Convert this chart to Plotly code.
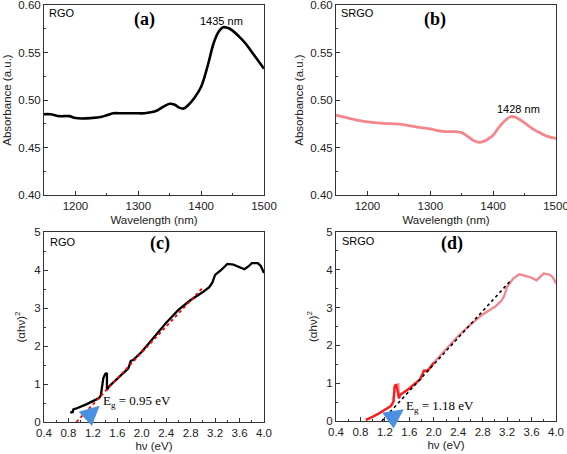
import plotly.graph_objects as go

# Panel (a) RGO absorbance
wl_a = [1150, 1160, 1175, 1190, 1200, 1210, 1225, 1240, 1250, 1260, 1275, 1290, 1300, 1310, 1320, 1330, 1340, 1350, 1358, 1365, 1372, 1380, 1390, 1400, 1410, 1420, 1428, 1435, 1442, 1450, 1460, 1470, 1480, 1490, 1500]
ab_a = [0.485, 0.485, 0.483, 0.483, 0.481, 0.4805, 0.481, 0.482, 0.484, 0.486, 0.486, 0.486, 0.486, 0.486, 0.487, 0.489, 0.493, 0.496, 0.495, 0.492, 0.491, 0.495, 0.503, 0.514, 0.535, 0.560, 0.572, 0.5765, 0.576, 0.573, 0.567, 0.560, 0.551, 0.542, 0.533]
# Panel (b) SRGO absorbance
wl_b = [1150, 1170, 1190, 1200, 1225, 1250, 1275, 1300, 1320, 1340, 1350, 1360, 1370, 1378, 1385, 1392, 1400, 1410, 1420, 1428, 1435, 1450, 1460, 1470, 1485, 1500]
ab_b = [0.484, 0.481, 0.478, 0.477, 0.4755, 0.4747, 0.472, 0.4695, 0.467, 0.4667, 0.4656, 0.4615, 0.457, 0.4554, 0.4565, 0.459, 0.463, 0.472, 0.479, 0.4825, 0.482, 0.476, 0.471, 0.467, 0.462, 0.4596]
# Panel (c) RGO Tauc
hv_c = [0.83, 0.85, 0.87, 0.88, 0.92, 1.0, 1.1, 1.2, 1.3, 1.33, 1.35, 1.37, 1.40, 1.43, 1.43, 1.43, 1.46, 1.6, 1.7, 1.78, 1.82, 1.86, 2.0, 2.2, 2.4, 2.6, 2.8, 3.0, 3.1, 3.15, 3.2, 3.3, 3.4, 3.5, 3.6, 3.68, 3.75, 3.8, 3.9, 3.95, 4.0]
ab2_c = [0.27, 0.25, 0.26, 0.33, 0.35, 0.40, 0.47, 0.55, 0.63, 0.70, 0.90, 1.15, 1.26, 1.29, 1.05, 0.84, 0.93, 1.13, 1.28, 1.41, 1.61, 1.63, 1.85, 2.23, 2.61, 2.95, 3.21, 3.42, 3.54, 3.65, 3.87, 4.0, 4.16, 4.14, 4.07, 4.02, 4.10, 4.18, 4.18, 4.10, 3.92]
fit_c_x = [0.93, 3.0]
fit_c_y = [0.0, 3.54]
# Panel (d) SRGO Tauc
hv_d = [0.89, 0.95, 1.0, 1.1, 1.2, 1.3, 1.34, 1.36, 1.38, 1.40, 1.42, 1.43, 1.43, 1.45, 1.6, 1.78, 1.84, 1.9, 2.0, 2.2, 2.4, 2.6, 2.8, 3.0, 3.1, 3.15, 3.2, 3.3, 3.4, 3.5, 3.6, 3.68, 3.75, 3.8, 3.9, 3.95, 4.0]
ab2_d = [0.03, 0.07, 0.11, 0.20, 0.29, 0.40, 0.51, 0.91, 0.97, 0.86, 1.0, 0.80, 0.60, 0.69, 0.86, 1.11, 1.33, 1.33, 1.54, 1.90, 2.25, 2.55, 2.82, 3.02, 3.17, 3.30, 3.55, 3.77, 3.88, 3.84, 3.79, 3.72, 3.82, 3.90, 3.87, 3.80, 3.64]
red_d_x = [0.89, 0.95, 1.0, 1.1, 1.2, 1.3, 1.34, 1.36, 1.38, 1.40, 1.43, 1.45, 1.6, 1.78, 1.84, 1.9, 2.0]
red_d_y = [0.03, 0.07, 0.11, 0.20, 0.29, 0.40, 0.51, 0.91, 0.97, 0.86, 0.60, 0.69, 0.86, 1.11, 1.33, 1.33, 1.54]
fit_d_x = [1.15, 3.25]
fit_d_y = [0.0, 3.70]

# Tick labels
wl_ticks = [1200, 1300, 1400, 1500]
abs_ticks = [0.40, 0.45, 0.50, 0.55, 0.60]
abs_ticklabels = ["0.40", "0.45", "0.50", "0.55", "0.60"]
hv_ticks = [0.4, 0.8, 1.2, 1.6, 2.0, 2.4, 2.8, 3.2, 3.6, 4.0]
hv_ticklabels = ["0.4", "0.8", "1.2", "1.6", "2.0", "2.4", "2.8", "3.2", "3.6", "4.0"]
tauc_ticks = [0, 1, 2, 3, 4, 5]

fig = go.Figure()
fig.add_trace(go.Scatter(x=wl_a, y=ab_a, mode="lines", line=dict(color="black", width=2.6, shape="spline"), xaxis="x", yaxis="y"))
fig.add_trace(go.Scatter(x=wl_b, y=ab_b, mode="lines", line=dict(color="#f4868e", width=2.8, shape="spline"), xaxis="x2", yaxis="y2"))
fig.add_trace(go.Scatter(x=hv_c, y=ab2_c, mode="lines", line=dict(color="black", width=2.3), xaxis="x3", yaxis="y3"))
fig.add_trace(go.Scatter(x=fit_c_x, y=fit_c_y, mode="lines", line=dict(color="red", width=1.8, dash="dot"), xaxis="x3", yaxis="y3"))
fig.add_trace(go.Scatter(x=hv_d, y=ab2_d, mode="lines", line=dict(color="#f4868e", width=2.3), xaxis="x4", yaxis="y4"))
fig.add_trace(go.Scatter(x=red_d_x, y=red_d_y, mode="lines", line=dict(color="#ff1a1a", width=2.3), xaxis="x4", yaxis="y4"))
fig.add_trace(go.Scatter(x=fit_d_x, y=fit_d_y, mode="lines", line=dict(color="black", width=1.6, dash="dot"), xaxis="x4", yaxis="y4"))

W, H = 567, 454
def dx(a, b): return [a / W, b / W]
def dy(top, bot): return [1 - bot / H, 1 - top / H]

tickfont = dict(family="Liberation Sans, Arial", size=11.5, color="#222")
titlefont = dict(family="Liberation Sans, Arial", size=11.5, color="#222")
common = dict(showline=True, linecolor="#333", linewidth=1, mirror=True, ticks="inside",
              ticklen=4, tickcolor="#333", showgrid=False, zeroline=False, tickfont=tickfont,
              automargin=False, ticklabeloverflow="allow")
wl_axis = dict(range=[1150, 1500], tickmode="array", tickvals=wl_ticks,
               title=dict(text="Wavelength (nm)", font=titlefont, standoff=5),
               minor=dict(ticks="inside", ticklen=2, dtick=50, tick0=1150, tickcolor="#333"), **common)
abs_axis = dict(range=[0.40, 0.60], tickmode="array", tickvals=abs_ticks, ticktext=abs_ticklabels,
                title=dict(text="Absorbance (a.u.)", font=titlefont, standoff=4),
                minor=dict(ticks="inside", ticklen=2, dtick=0.025, tick0=0.4, tickcolor="#333"), **common)
hv_axis = dict(range=[0.4, 4.0], tickmode="array", tickvals=hv_ticks, ticktext=hv_ticklabels,
               title=dict(text="hν (eV)", font=titlefont, standoff=4),
               minor=dict(ticks="inside", ticklen=2, dtick=0.2, tick0=0.4, tickcolor="#333"), **common)
tauc_axis = dict(range=[0, 5], tickmode="array", tickvals=tauc_ticks,
                 title=dict(text="(αhν)<sup>2</sup>", font=titlefont, standoff=6),
                 minor=dict(ticks="inside", ticklen=2, dtick=0.5, tick0=0, tickcolor="#333"), **common)

fig.update_layout(
    width=W, height=H, margin=dict(l=0, r=0, t=0, b=0),
    paper_bgcolor="white", plot_bgcolor="white", showlegend=False,
    xaxis=dict(domain=dx(44, 264), anchor="y", **wl_axis),
    yaxis=dict(domain=dy(5, 195), anchor="x", **abs_axis),
    xaxis2=dict(domain=dx(336, 556), anchor="y2", **wl_axis),
    yaxis2=dict(domain=dy(5, 195), anchor="x2", **abs_axis),
    xaxis3=dict(domain=dx(44, 264), anchor="y3", **hv_axis),
    yaxis3=dict(domain=dy(232, 422), anchor="x3", **tauc_axis),
    xaxis4=dict(domain=dx(336, 556), anchor="y4", **hv_axis),
    yaxis4=dict(domain=dy(232, 421), anchor="x4", **tauc_axis),
)

lab = dict(family="Liberation Serif, Times New Roman", size=18, color="black")
small = dict(family="Liberation Sans, Arial", size=11, color="black")
serif = dict(family="Liberation Serif, Times New Roman", size=13, color="black")
ann = [
    dict(xref="x", yref="y", x=1310, y=0.585, text="<b>(a)</b>", font=lab, showarrow=False),
    dict(xref="x2", yref="y2", x=1307, y=0.585, text="<b>(b)</b>", font=lab, showarrow=False),
    dict(xref="x3", yref="y3", x=2.3, y=4.7, text="<b>(c)</b>", font=lab, showarrow=False),
    dict(xref="x4", yref="y4", x=2.3, y=4.7, text="<b>(d)</b>", font=lab, showarrow=False),
    dict(xref="x", yref="y", x=1154, y=0.592, text="RGO", font=small, showarrow=False, xanchor="left"),
    dict(xref="x2", yref="y2", x=1154, y=0.592, text="SRGO", font=small, showarrow=False, xanchor="left"),
    dict(xref="x3", yref="y3", x=0.47, y=4.75, text="RGO", font=small, showarrow=False, xanchor="left"),
    dict(xref="x4", yref="y4", x=0.47, y=4.75, text="SRGO", font=small, showarrow=False, xanchor="left"),
    dict(xref="x", yref="y", x=1432, y=0.5835, text="1435 nm", font=small, showarrow=False),
    dict(xref="x2", yref="y2", x=1440, y=0.4905, text="1428 nm", font=small, showarrow=False),
    dict(xref="x3", yref="y3", x=1.33, y=0.55, text="E<sub>g</sub> = 0.95 eV", font=serif, showarrow=False, xanchor="left"),
    dict(xref="x4", yref="y4", x=1.52, y=0.38, text="E<sub>g</sub> = 1.18 eV", font=serif, showarrow=False, xanchor="left"),
    dict(xref="x3", yref="y3", axref="x3", ayref="y3", x=1.31, y=0.43, ax=1.10, ay=0.12, text="",
         showarrow=True, arrowhead=2, arrowsize=1.3, arrowwidth=3, arrowcolor="#4a8fe0"),
    dict(xref="x4", yref="y4", axref="x4", ayref="y4", x=1.51, y=0.31, ax=1.24, ay=0.0, text="",
         showarrow=True, arrowhead=2, arrowsize=1.3, arrowwidth=3, arrowcolor="#4a8fe0"),
]
fig.update_layout(annotations=ann)
fig.write_html("out.html", config={"displayModeBar": False},
               post_script="document.body.style.margin='0';document.body.style.overflow='hidden';")
